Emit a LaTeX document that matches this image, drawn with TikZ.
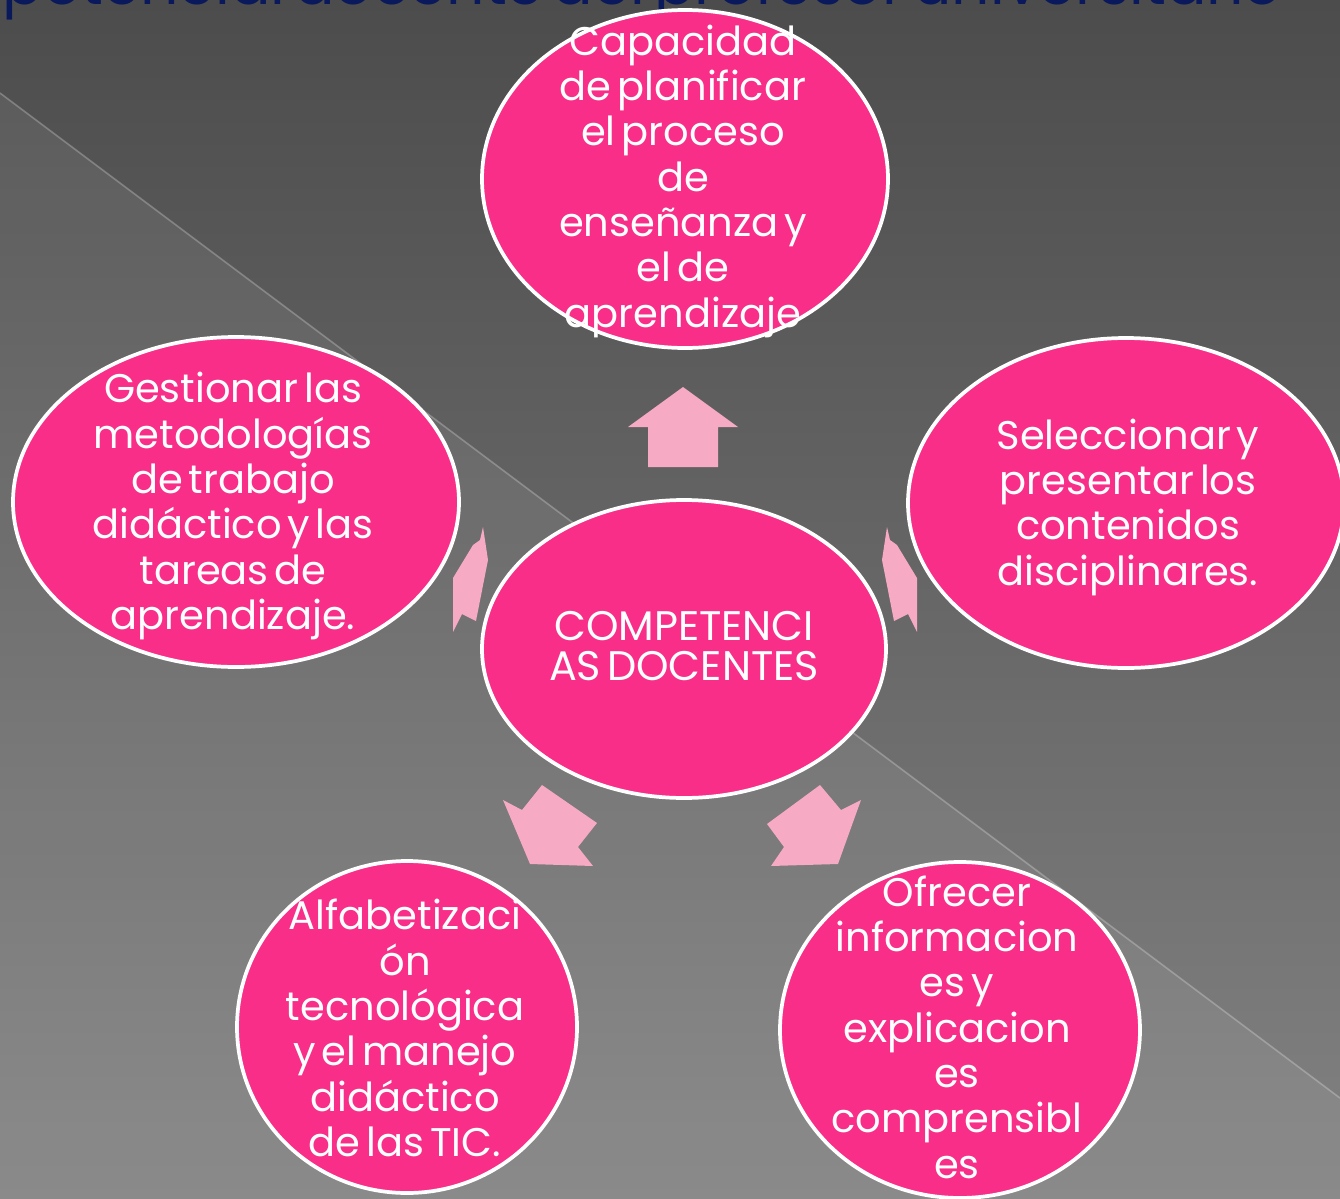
\documentclass[tikz,border=0pt]{standalone}
\usepackage{fontspec}
\setmainfont{Poppins}[WordSpace=0.55]
\usetikzlibrary{shapes.geometric}

\tikzset{every picture/.style={line width=0.75pt}}
\tikzset{
  bubble/.style={ellipse, draw={rgb, 255:red, 255; green, 255; blue, 255}, line width=2.8pt,
    fill={rgb, 255:red, 248; green, 46; blue, 136}, inner sep=0pt},
  bubble text/.style={text=white, align=center, inner sep=0pt, font=\fontsize{30}{34}\selectfont},
  block arrow/.style={fill={rgb, 255:red, 246; green, 170; blue, 195}, draw=none},
}

\begin{document}
\begin{tikzpicture}[x=0.75pt,y=0.75pt,yscale=-1,xscale=1]
  \useasboundingbox (0,0) rectangle (1340,1199);
  \clip (0,0) rectangle (1340,1199);

  %Background
  \shade [top color={rgb, 255:red, 76; green, 76; blue, 76}, middle color={rgb, 255:red, 86; green, 86; blue, 86}, bottom color={rgb, 255:red, 130; green, 130; blue, 130}] (0,0) rectangle (1340,1199);
  \fill [white, fill opacity=0.07] (0,93) -- (1340,1098) -- (1340,1199) -- (0,1199) -- cycle;
  \draw [white, draw opacity=0.25, line width=1.2pt] (0,93) -- (1340,1098);

  %Title (cut at the top)
  \node [anchor=base west, inner sep=0pt, text={rgb, 255:red, 10; green, 24; blue, 92}, font=\fontsize{45}{50}\selectfont] (title) at (2,4) {potencial docente del profesor universitario};

  %Ellipses
  \node [bubble, minimum width=304.5pt, minimum height=253.5pt] (plan) at (685,179) {};
  \node [bubble text] (planText) at (683,181) {Capacidad\\de planificar\\el proceso\\de\\enseñanza y\\el de\\aprendizaje};

  \node [bubble, minimum width=334.5pt, minimum height=247.5pt] (gestion) at (236,502) {};
  \node [bubble text] (gestionText) at (233,506) {Gestionar las\\metodologías\\de trabajo\\didáctico y las\\tareas de\\aprendizaje.};

  \node [bubble, minimum width=327pt, minimum height=247.5pt] (seleccion) at (1126,503) {};
  \node [bubble text] (seleccionText) at (1128,507) {Seleccionar y\\presentar los\\contenidos\\disciplinares.};

  \node [bubble, minimum width=303pt, minimum height=223.5pt] (hub) at (684,649) {};
  \node [bubble text, font=\fontsize{31}{30}\selectfont] (hubText) at (684,646) {COMPETENCI\\AS DOCENTES};

  \node [bubble, minimum width=255pt, minimum height=249pt] (alfa) at (407,1027) {};
  \node [bubble text] (alfaText) at (405,1028) {Alfabetizaci\\ón\\tecnológica\\y el manejo\\didáctico\\de las TIC.};

  \node [bubble, minimum width=270pt, minimum height=252pt] (ofrecer) at (960,1030) {};
  \node [bubble text] (ofrecerText) at (957,1027) {Ofrecer\\informacion\\es y\\explicacion\\es\\comprensibl\\es};

  %Block Arrows
  \fill [block arrow] (683,387) -- (738,427) -- (718,427) -- (718,467) -- (648,467) -- (648,427) -- (628,427) -- cycle;
  \fill [block arrow] (483,527) -- (488,560) -- (476,621) -- (462,614) -- (453,632) -- (453,578) -- (473,545) -- (480,540) -- cycle;
  \fill [block arrow] (887,527) -- (882,560) -- (894,621) -- (908,614) -- (917,632) -- (917,578) -- (897,545) -- (890,540) -- cycle;
  \fill [block arrow] (542,785) -- (597,823) -- (578,847) -- (593,866) -- (530,864) -- (503,800) -- (522,810) -- cycle;
  \fill [block arrow] (820,785) -- (767,824) -- (784,847) -- (771,866) -- (838,864) -- (861,800) -- (841,810) -- cycle;
\end{tikzpicture}
\end{document}
